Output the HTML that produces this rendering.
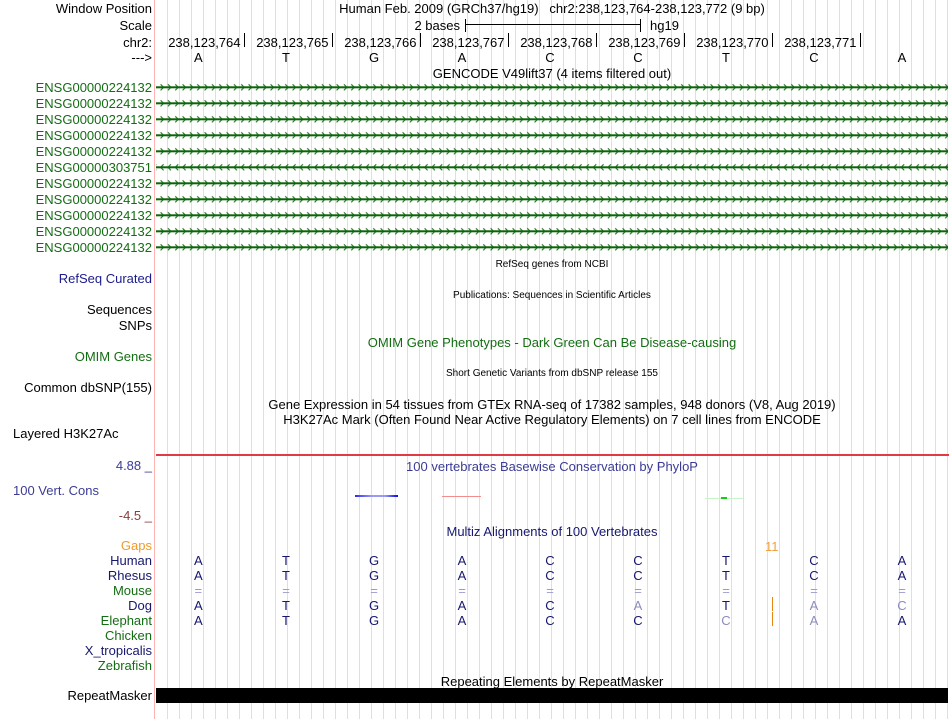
<!DOCTYPE html>
<html><head><meta charset="utf-8"><style>
html,body{margin:0;padding:0;background:#fff}
#c{position:relative;width:950px;height:719px;overflow:hidden;background:#fff;font-family:"Liberation Sans",Arial,sans-serif;color:#000}
.t{position:absolute;white-space:nowrap;font-size:13px;line-height:15px}
.l{left:0;width:152px;text-align:right}
.c{left:156px;width:792px;text-align:center}
.s{font-size:10px;line-height:12px}
.b{width:20px;text-align:center}
.g{color:#136d13}
.n{color:#17176f}
.f{color:#8c8cbe}
.e{color:#9a9acc}
.abs{position:absolute}
</style></head><body><div id="c">
<!-- grid -->
<div class="abs" style="left:167px;top:0;width:782px;height:719px;background:repeating-linear-gradient(to right,#dcdcf5 0 1px,transparent 1px 12px)"></div>
<div class="abs" style="left:154px;top:0;width:1px;height:719px;background:#ffb4b4"></div>

<!-- header -->
<div class="t l" style="top:1px">Window Position</div>
<div class="t c" style="top:1px">Human Feb. 2009 (GRCh37/hg19)&nbsp;&nbsp;&nbsp;chr2:238,123,764-238,123,772 (9 bp)</div>
<div class="t l" style="top:18px">Scale</div>
<div class="t" style="top:18px;left:0;width:460px;text-align:right">2 bases</div>
<div class="abs" style="left:465px;top:24px;width:176px;height:1px;background:#000"></div>
<div class="abs" style="left:465px;top:19px;width:1px;height:13px;background:#000"></div>
<div class="abs" style="left:640px;top:19px;width:1px;height:13px;background:#000"></div>
<div class="t" style="top:18px;left:650px">hg19</div>
<div class="t l" style="top:35px">chr2:</div>
<div class="t" style="top:35px;left:140px;width:100.5px;text-align:right">238,123,764</div>
<div class="t" style="top:35px;left:228px;width:100.5px;text-align:right">238,123,765</div>
<div class="t" style="top:35px;left:316px;width:100.5px;text-align:right">238,123,766</div>
<div class="t" style="top:35px;left:404px;width:100.5px;text-align:right">238,123,767</div>
<div class="t" style="top:35px;left:492px;width:100.5px;text-align:right">238,123,768</div>
<div class="t" style="top:35px;left:580px;width:100.5px;text-align:right">238,123,769</div>
<div class="t" style="top:35px;left:668px;width:100.5px;text-align:right">238,123,770</div>
<div class="t" style="top:35px;left:756px;width:100.5px;text-align:right">238,123,771</div>
<div class="abs" style="left:244px;top:33px;width:1px;height:14px;background:#000"></div>
<div class="abs" style="left:332px;top:33px;width:1px;height:14px;background:#000"></div>
<div class="abs" style="left:420px;top:33px;width:1px;height:14px;background:#000"></div>
<div class="abs" style="left:508px;top:33px;width:1px;height:14px;background:#000"></div>
<div class="abs" style="left:596px;top:33px;width:1px;height:14px;background:#000"></div>
<div class="abs" style="left:684px;top:33px;width:1px;height:14px;background:#000"></div>
<div class="abs" style="left:772px;top:33px;width:1px;height:14px;background:#000"></div>
<div class="abs" style="left:860px;top:33px;width:1px;height:14px;background:#000"></div>
<div class="t l" style="top:50px">---&gt;</div>
<div class="t b" style="top:49.7px;left:188.3px">A</div>
<div class="t b" style="top:49.7px;left:276px">T</div>
<div class="t b" style="top:49.7px;left:364px">G</div>
<div class="t b" style="top:49.7px;left:452px">A</div>
<div class="t b" style="top:49.7px;left:540px">C</div>
<div class="t b" style="top:49.7px;left:628px">C</div>
<div class="t b" style="top:49.7px;left:716px">T</div>
<div class="t b" style="top:49.7px;left:804px">C</div>
<div class="t b" style="top:49.7px;left:892px">A</div>
<div class="t c" style="top:66px">GENCODE V49lift37 (4 items filtered out)</div>

<!-- ENSG labels -->
<div class="t l g" style="top:79.7px">ENSG00000224132</div>
<div class="t l g" style="top:95.7px">ENSG00000224132</div>
<div class="t l g" style="top:111.7px">ENSG00000224132</div>
<div class="t l g" style="top:127.7px">ENSG00000224132</div>
<div class="t l g" style="top:143.7px">ENSG00000224132</div>
<div class="t l g" style="top:159.7px">ENSG00000303751</div>
<div class="t l g" style="top:175.7px">ENSG00000224132</div>
<div class="t l g" style="top:191.7px">ENSG00000224132</div>
<div class="t l g" style="top:207.7px">ENSG00000224132</div>
<div class="t l g" style="top:223.7px">ENSG00000224132</div>
<div class="t l g" style="top:239.7px">ENSG00000224132</div>

<svg class="abs" style="left:0;top:0" width="950" height="719" viewBox="0 0 950 719">
<defs>
<pattern id="ra" patternUnits="userSpaceOnUse" x="160" y="79.3" width="7.333" height="16">
<path d="M0.6,5 L3.6,8 L0.6,11" fill="none" stroke="#0c640c" stroke-width="1"/>
</pattern>
<pattern id="la" patternUnits="userSpaceOnUse" x="160" y="79.3" width="7.333" height="16">
<path d="M3.6,5 L0.6,8 L3.6,11" fill="none" stroke="#0c640c" stroke-width="1"/>
</pattern>
</defs>
<g fill="#0c640c">
<rect x="156" y="86.3" width="792" height="2"/>
<rect x="156" y="102.3" width="792" height="2"/>
<rect x="156" y="118.3" width="792" height="2"/>
<rect x="156" y="134.3" width="792" height="2"/>
<rect x="156" y="150.3" width="792" height="2"/>
<rect x="156" y="166.3" width="792" height="2"/>
<rect x="156" y="182.3" width="792" height="2"/>
<rect x="156" y="198.3" width="792" height="2"/>
<rect x="156" y="214.3" width="792" height="2"/>
<rect x="156" y="230.3" width="792" height="2"/>
<rect x="156" y="246.3" width="792" height="2"/>
</g>
<rect x="156" y="83" width="792" height="9" fill="url(#ra)"/>
<rect x="156" y="99" width="792" height="9" fill="url(#ra)"/>
<rect x="156" y="115" width="792" height="9" fill="url(#ra)"/>
<rect x="156" y="131" width="792" height="9" fill="url(#ra)"/>
<rect x="156" y="147" width="792" height="9" fill="url(#ra)"/>
<rect x="156" y="163" width="792" height="9" fill="url(#la)"/>
<rect x="156" y="179" width="792" height="9" fill="url(#ra)"/>
<rect x="156" y="195" width="792" height="9" fill="url(#ra)"/>
<rect x="156" y="211" width="792" height="9" fill="url(#ra)"/>
<rect x="156" y="227" width="792" height="9" fill="url(#ra)"/>
<rect x="156" y="243" width="792" height="9" fill="url(#ra)"/>
</svg>

<!-- mid tracks -->
<div class="t c s" style="top:258.5px">RefSeq genes from NCBI</div>
<div class="t l" style="top:271px;color:#1c1c8c">RefSeq Curated</div>
<div class="t c s" style="top:289.5px">Publications: Sequences in Scientific Articles</div>
<div class="t l" style="top:302px">Sequences</div>
<div class="t l" style="top:318px">SNPs</div>
<div class="t c g" style="top:334.7px">OMIM Gene Phenotypes - Dark Green Can Be Disease-causing</div>
<div class="t l g" style="top:348.7px">OMIM Genes</div>
<div class="t c s" style="top:367.8px">Short Genetic Variants from dbSNP release 155</div>
<div class="t l" style="top:379.7px">Common dbSNP(155)</div>
<div class="t c" style="top:397.3px">Gene Expression in 54 tissues from GTEx RNA-seq of 17382 samples, 948 donors (V8, Aug 2019)</div>
<div class="t c" style="top:412.3px">H3K27Ac Mark (Often Found Near Active Regulatory Elements) on 7 cell lines from ENCODE</div>
<div class="t" style="top:426.3px;left:13px">Layered H3K27Ac</div>

<!-- conservation -->
<div class="abs" style="left:156px;top:454px;width:793px;height:2px;background:#e03a44"></div>
<div class="t l" style="top:458px;color:#3c3c96">4.88 _</div>
<div class="t c" style="top:458.7px;color:#3c3c96">100 vertebrates Basewise Conservation by PhyloP</div>
<div class="t" style="top:482.5px;left:13px;color:#3c3c96">100 Vert. Cons</div>
<div class="abs" style="left:355px;top:495px;width:43px;height:1.5px;background:linear-gradient(to right,#2a2af0 0,#5050f0 12%,#9a9af4 40%,#9a9af4 70%,#2a2af0 92%,#1010e0 100%)"></div>
<div class="abs" style="left:442px;top:495.5px;width:39px;height:1px;background:#f08c8c"></div>
<div class="abs" style="left:705px;top:497.5px;width:38px;height:1px;background:#c8f2c8"></div>
<div class="abs" style="left:721px;top:497px;width:6px;height:1.5px;background:#10d010"></div>
<div class="t l" style="top:507.7px;color:#8a3c3c">-4.5 _</div>

<!-- multiz -->
<div class="t c n" style="top:524.3px">Multiz Alignments of 100 Vertebrates</div>
<div class="t l" style="top:538px;color:#f09a28">Gaps</div>
<div class="t" style="top:538.5px;left:765px;color:#f0a040">11</div>
<div class="t l n" style="top:553.3px">Human</div>
<div class="t l n" style="top:568.3px">Rhesus</div>
<div class="t l g" style="top:583.3px">Mouse</div>
<div class="t l n" style="top:598.3px">Dog</div>
<div class="t l g" style="top:613.3px">Elephant</div>
<div class="t l g" style="top:628.3px">Chicken</div>
<div class="t l n" style="top:643.3px">X_tropicalis</div>
<div class="t l g" style="top:658.3px">Zebrafish</div>

<!-- Human -->
<div class="t b n" style="top:553.3px;left:188.3px">A</div>
<div class="t b n" style="top:553.3px;left:276px">T</div>
<div class="t b n" style="top:553.3px;left:364px">G</div>
<div class="t b n" style="top:553.3px;left:452px">A</div>
<div class="t b n" style="top:553.3px;left:540px">C</div>
<div class="t b n" style="top:553.3px;left:628px">C</div>
<div class="t b n" style="top:553.3px;left:716px">T</div>
<div class="t b n" style="top:553.3px;left:804px">C</div>
<div class="t b n" style="top:553.3px;left:892px">A</div>
<!-- Rhesus -->
<div class="t b n" style="top:568.3px;left:188.3px">A</div>
<div class="t b n" style="top:568.3px;left:276px">T</div>
<div class="t b n" style="top:568.3px;left:364px">G</div>
<div class="t b n" style="top:568.3px;left:452px">A</div>
<div class="t b n" style="top:568.3px;left:540px">C</div>
<div class="t b n" style="top:568.3px;left:628px">C</div>
<div class="t b n" style="top:568.3px;left:716px">T</div>
<div class="t b n" style="top:568.3px;left:804px">C</div>
<div class="t b n" style="top:568.3px;left:892px">A</div>
<!-- Mouse -->
<div class="t b e" style="top:583.3px;left:188.3px">=</div>
<div class="t b e" style="top:583.3px;left:276px">=</div>
<div class="t b e" style="top:583.3px;left:364px">=</div>
<div class="t b e" style="top:583.3px;left:452px">=</div>
<div class="t b e" style="top:583.3px;left:540px">=</div>
<div class="t b e" style="top:583.3px;left:628px">=</div>
<div class="t b e" style="top:583.3px;left:716px">=</div>
<div class="t b e" style="top:583.3px;left:804px">=</div>
<div class="t b e" style="top:583.3px;left:892px">=</div>
<!-- Dog -->
<div class="t b n" style="top:598.3px;left:188.3px">A</div>
<div class="t b n" style="top:598.3px;left:276px">T</div>
<div class="t b n" style="top:598.3px;left:364px">G</div>
<div class="t b n" style="top:598.3px;left:452px">A</div>
<div class="t b n" style="top:598.3px;left:540px">C</div>
<div class="t b f" style="top:598.3px;left:628px">A</div>
<div class="t b n" style="top:598.3px;left:716px">T</div>
<div class="t b f" style="top:598.3px;left:804px">A</div>
<div class="t b f" style="top:598.3px;left:892px">C</div>
<!-- Elephant -->
<div class="t b n" style="top:613.3px;left:188.3px">A</div>
<div class="t b n" style="top:613.3px;left:276px">T</div>
<div class="t b n" style="top:613.3px;left:364px">G</div>
<div class="t b n" style="top:613.3px;left:452px">A</div>
<div class="t b n" style="top:613.3px;left:540px">C</div>
<div class="t b n" style="top:613.3px;left:628px">C</div>
<div class="t b f" style="top:613.3px;left:716px">C</div>
<div class="t b f" style="top:613.3px;left:804px">A</div>
<div class="t b n" style="top:613.3px;left:892px">A</div>
<!-- gap bars -->
<div class="abs" style="left:771.5px;top:597px;width:1.5px;height:14px;background:#e8870f"></div>
<div class="abs" style="left:771.5px;top:612px;width:1.5px;height:14px;background:#e8870f"></div>

<!-- repeatmasker -->
<div class="t c" style="top:674px">Repeating Elements by RepeatMasker</div>
<div class="t l" style="top:688.3px">RepeatMasker</div>
<div class="abs" style="left:156px;top:688px;width:792px;height:15px;background:#000"></div>
</div></body></html>
